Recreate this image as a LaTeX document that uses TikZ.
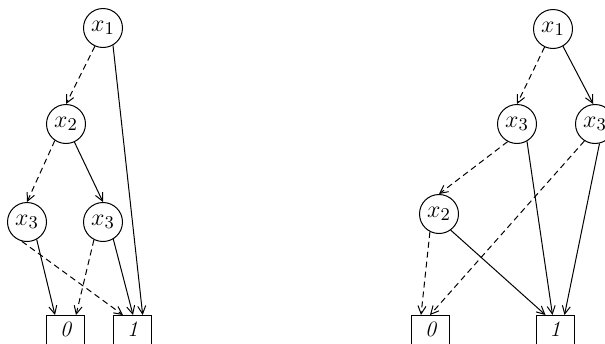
\documentclass[tikz,border=0pt]{standalone}
\usetikzlibrary{arrows.meta,calc}
\begin{document}
\begin{tikzpicture}[x=0.5pt,y=-0.5pt,
  vnode/.style={draw,circle,minimum size=19.5pt,inner sep=0pt,line width=0.5pt,font=\fontsize{13}{15}\selectfont},
  leaf/.style={draw,rectangle,anchor=north,minimum width=19pt,inner sep=3pt,text height=7.5pt,text depth=18pt,line width=0.5pt,font=\fontsize{11}{13}\selectfont\itshape},
  edge/.style={line width=0.5pt,-{Straight Barb[length=4pt,width=4pt]}},
  lo/.style={edge,dash pattern=on 3pt off 2pt}]
\useasboundingbox (0,0) rectangle (605,343);
\clip (0,0) rectangle (605,343);
% left diagram
\node[vnode] (a1) at (103,28) {$x_1$};
\node[vnode] (a2) at (66,124) {$x_2$};
\node[vnode] (a3) at (27,222) {$x_3$};
\node[vnode] (a4) at (103,222) {$x_3$};
\node[leaf] (a0) at (65.5,315) {0};
\node[leaf] (aI) at (132.5,315) {1};
\draw[lo] (a1.-114) -- (a2.north);
\draw[edge] (a1.-60) -- ($(aI.north west)+(29.7,0)$);
\draw[lo] (a2.-124) -- (a3.north);
\draw[edge] (a2.-65) -- (a4.north);
\draw[edge] (a3.-61) -- ($(a0.north west)+(9,0)$);
\draw[lo] (a3.-105) -- ($(aI.north west)+(10,0)$);
\draw[lo] (a4.-117) -- ($(a0.north west)+(30,0)$);
\draw[edge] (a4.-59) -- ($(aI.north west)+(20,0)$);
% right diagram
\node[vnode] (b1) at (553,29) {$x_1$};
\node[vnode] (b3) at (517,124) {$x_3$};
\node[vnode] (b4) at (595,124) {$x_3$};
\node[vnode] (b2) at (439,214) {$x_2$};
\node[leaf] (b0) at (430.5,315) {0};
\node[leaf] (bI) at (555,315) {1};
\draw[lo] (b1.-115) -- (b3.north);
\draw[edge] (b1.-60) -- (b4.95);
\draw[lo] (b3.-118) -- (b2.north);
\draw[edge] (b3.-60) -- ($(bI.north west)+(17,0)$);
\draw[lo] (b4.-122) -- ($(b0.north west)+(19,0)$);
\draw[edge] (b4.-77) -- ($(bI.north west)+(29,0)$);
\draw[lo] (b2.-117) -- ($(b0.north west)+(10,0)$);
\draw[edge] (b2.-54) -- ($(bI.north west)+(10,0)$);
\end{tikzpicture}
\end{document}
